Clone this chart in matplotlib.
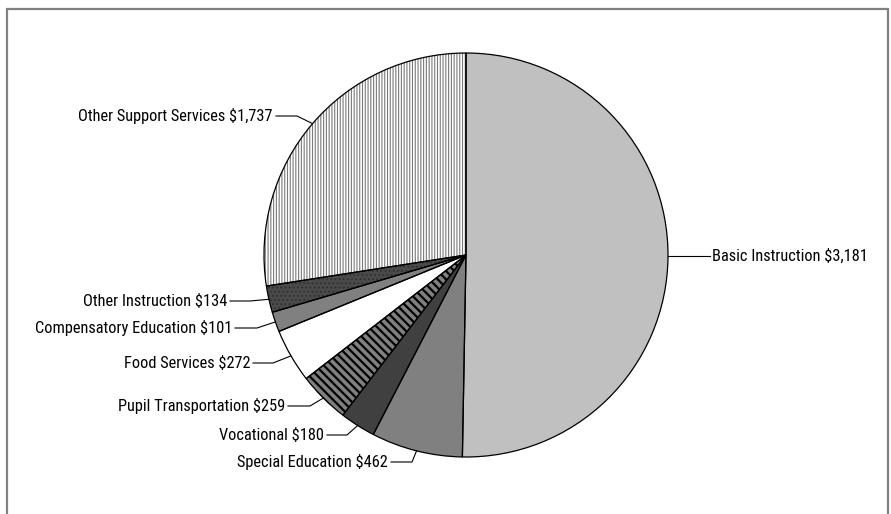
import numpy as np
import matplotlib
matplotlib.use("Agg")
import matplotlib.pyplot as plt
from matplotlib import font_manager as fm

plt.rcParams["hatch.linewidth"] = 0.8

# data (dollars per pupil)
categories = ["Basic Instruction", "Special Education", "Vocational",
              "Pupil Transportation", "Food Services", "Compensatory Education",
              "Other Instruction", "Other Support Services"]
values = [3181, 462, 180, 259, 272, 101, 134, 1737]

# styles
faces = ["#c0c0c0", "#808080", "#404040", "#808080", "#ffffff", "#808080",
         "#4a4a4a", "#ffffff"]
hatches = [None, None, None, "\\\\\\\\", None, None, "....", "||||||"]
hatch_cols = ["#c0c0c0", "#808080", "#404040", "#000000", "#ffffff", "#808080",
              "#303030", "#7a7a7a"]

# label layout in image pixels: text anchor x, y, elbow x
label_x = [712, 388, 324, 285, 250, 232, 227, 273]
label_y = [256, 462, 435, 406, 363, 328, 301, 116]
elbow_x = [710, 412, 347, 310, 273, 257, 250, 297]

W, H = 891, 514
cx, cy, R = 466, 255, 202


def pick_font():
    # a narrow sans face looks closest to the original
    prefs = ["Liberation Sans Narrow", "Roboto Condensed", "Open Sans Condensed",
             "DejaVu Sans Condensed", "Noto Sans Condensed"]
    names = {f.name: f for f in fm.fontManager.ttflist
             if f.style == "normal" and f.weight in (400, "normal", "regular")}
    for p in prefs:
        if p in names:
            return fm.FontProperties(fname=names[p].fname)
    for f in fm.fontManager.ttflist:
        if f.stretch in ("condensed", "semi-condensed", "extra-condensed") \
                and f.style == "normal" and f.weight in (400, "normal", "regular"):
            return fm.FontProperties(fname=f.fname)
    return fm.FontProperties(family="DejaVu Sans")


fp = pick_font()

fig = plt.figure(figsize=(W / 100, H / 100), dpi=100)
ax = fig.add_axes([0, 0, 1, 1])

# size the font so the longest right-hand label spans like the original
probe = fig.text(0, 0, "Basic Instruction $3,181", fontproperties=fp, fontsize=10)
fig.canvas.draw()
wpx = probe.get_window_extent().width
probe.remove()
fsize = min(12.5, 10 * 156 / wpx)
fp.set_size(fsize)

center = (cx, H - cy)
wedges, _ = ax.pie(values, colors=faces, startangle=90, counterclock=False,
                   center=center, radius=R, frame=True,
                   wedgeprops=dict(linewidth=0))
for i, (w, h, hc) in enumerate(zip(wedges, hatches, hatch_cols)):
    if h:
        w.set_hatch(h)
        w.set_edgecolor(hc)
        if i == 3 and hasattr(w, "set_hatch_linewidth"):
            w.set_hatch_linewidth(1.6)
# outlines on top
ax.pie(values, colors=faces, startangle=90, counterclock=False,
       center=center, radius=R, frame=True,
       wedgeprops=dict(fill=False, edgecolor="black", linewidth=0.9))
ax.set_xlim(0, W)
ax.set_ylim(0, H)
ax.set_aspect("equal")
ax.axis("off")

for i, (w, name, v) in enumerate(zip(wedges, categories, values)):
    mid = np.deg2rad((w.theta1 + w.theta2) / 2)
    ex = cx + R * np.cos(mid)
    ey = (H - cy) + R * np.sin(mid)
    ty = H - label_y[i]
    txt = f"{name} ${v:,}"
    if i == 0:
        ax.plot([ex, elbow_x[i]], [ty, ty], color="black", lw=0.8)
        ax.text(label_x[i], ty, txt, ha="left", va="center", fontproperties=fp)
    else:
        ax.plot([label_x[i] + 3, elbow_x[i], ex], [ty, ty, ey],
                color="black", lw=0.8)
        ax.text(label_x[i], ty, txt, ha="right", va="center", fontproperties=fp)

# gray frame
ax.plot([7, 7, 888, 888], [0, H - 9, H - 9, 0], color="#808080", lw=1.6,
        solid_joinstyle="miter")

fig.savefig("out.png", dpi=100)
